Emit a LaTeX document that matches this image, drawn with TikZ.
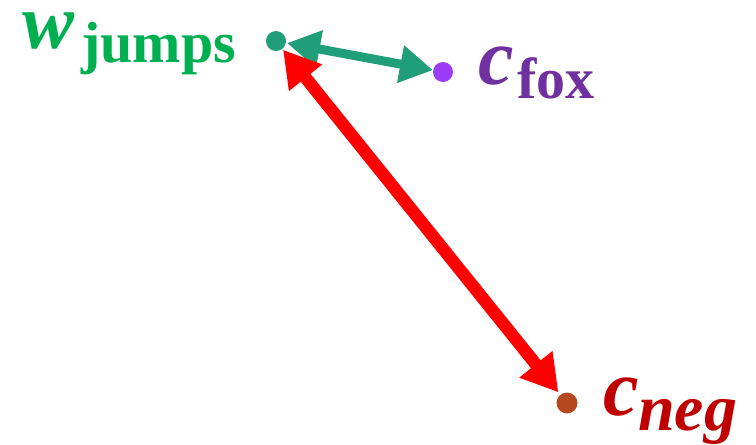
\documentclass[tikz,border=0pt]{standalone}
\usepackage{fontspec}
\setmainfont{Liberation Serif}
\usetikzlibrary{arrows.meta}
\definecolor{wgreen}{HTML}{00B050}
\definecolor{agreen}{HTML}{1F9E78}
\definecolor{fpurple}{HTML}{7030A0}
\definecolor{dpurple}{HTML}{9B3BF5}
\definecolor{nred}{HTML}{C00000}
\definecolor{dbrown}{HTML}{B5481E}
\definecolor{ared}{HTML}{FF0000}
\begin{document}
\begin{tikzpicture}[x=1pt,y=-1pt,
  dot/.style={circle,inner sep=0pt,minimum size=#1},
  lbl/.style={inner sep=0pt,anchor=base west},
  gar/.style={line width=9pt,agreen,{Triangle[length=33pt,width=36pt]}-{Triangle[length=33pt,width=36pt]}},
  rar/.style={line width=12.5pt,ared,{Triangle[length=36pt,width=40pt]}-{Triangle[length=36pt,width=40pt]}}]
\useasboundingbox (0,0) rectangle (756,445);
\node[dot=20pt,fill=agreen] (w) at (276,41) {};
\node[dot=20pt,fill=dpurple] (fox) at (443,72) {};
\node[dot=21pt,fill=dbrown] (neg) at (567,403) {};
\draw[gar,shorten <=1pt,shorten >=0pt] (w) -- (fox);
\draw[rar,shorten <=1pt,shorten >=3pt] (w) -- (neg);
\node[lbl,text=wgreen] (wl) at (22,48) {\fontsize{78}{78}\selectfont\bfseries\itshape w};
\node[lbl,text=wgreen] (wsub) at (81,62) {\fontsize{58}{58}\selectfont\bfseries jumps};
\node[lbl,text=fpurple] (cl) at (478,84) {\fontsize{80}{80}\selectfont\bfseries\itshape c};
\node[lbl,text=fpurple] (csub) at (517,98) {\fontsize{58}{58}\selectfont\bfseries fox};
\node[lbl,text=nred] (nl) at (603,415) {\fontsize{80}{80}\selectfont\bfseries\itshape c};
\node[lbl,text=nred] (nsub) at (638,430) {\fontsize{66}{66}\selectfont\bfseries\itshape neg};
\end{tikzpicture}
\end{document}
